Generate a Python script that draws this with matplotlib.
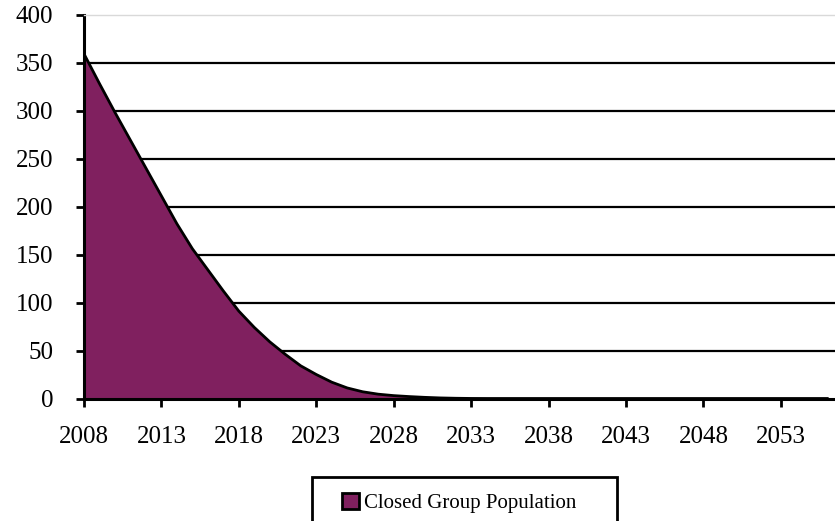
import matplotlib.pyplot as plt
from matplotlib.patches import Patch, Rectangle

plt.rcParams['font.family'] = ['Liberation Serif', 'DejaVu Serif']

years = list(range(2008, 2057))
population = [359, 328, 298, 269, 240, 211, 182, 156, 134, 112,
              91, 74, 59, 46, 34, 25, 17, 11, 7, 4.5,
              3, 2, 1.2, 0.6, 0.25, 0.05] + [0] * 23

y_ticks = [0, 50, 100, 150, 200, 250, 300, 350, 400]
x_ticks = list(range(2008, 2054, 5))

W, H = 835, 521
fig = plt.figure(figsize=(W / 100, H / 100), dpi=100)
ax = fig.add_axes([84 / W, 1 - 398.5 / H, 1 - 84 / W, 384 / H])

ax.fill_between(years, population, 0, color='#80205F', linewidth=0)
ax.plot(years, population, color='black', linewidth=2)

ax.set_xlim(2008, 2056.5)
ax.set_ylim(0, 400)

# horizontal grid lines (the top one is the light plot border)
for v in y_ticks[1:-1]:
    ax.axhline(v, color='black', linewidth=1.6, zorder=0.5)

ax.set_yticks(y_ticks)
ax.set_xticks(x_ticks)
ax.tick_params(axis='y', direction='out', length=6, width=2, pad=16, labelsize=18)
ax.tick_params(axis='x', direction='out', length=6, width=2, pad=14, labelsize=18)

ax.spines['left'].set_linewidth(2.2)
ax.spines['bottom'].set_linewidth(2.2)
ax.spines['top'].set_color('#d9d9d9')
ax.spines['top'].set_linewidth(1)
ax.spines['right'].set_visible(False)

# legend
handle = Patch(facecolor='#80205F', edgecolor='black', linewidth=2)
fig.legend([handle], ['Closed Group Population'], loc='center left',
           bbox_to_anchor=(342 / W, 1 - 503 / H),
           fontsize=15, frameon=False,
           handlelength=0.8, handleheight=0.8, handletextpad=0.25,
           borderpad=0, borderaxespad=0)
frame = Rectangle((311.5 / W, -0.02), (617 - 311.5) / W, 0.02 + (H - 476.7) / H,
                  transform=fig.transFigure, facecolor='none',
                  edgecolor='black', linewidth=2)
fig.patches.append(frame)

fig.savefig('out.png', dpi=100)
